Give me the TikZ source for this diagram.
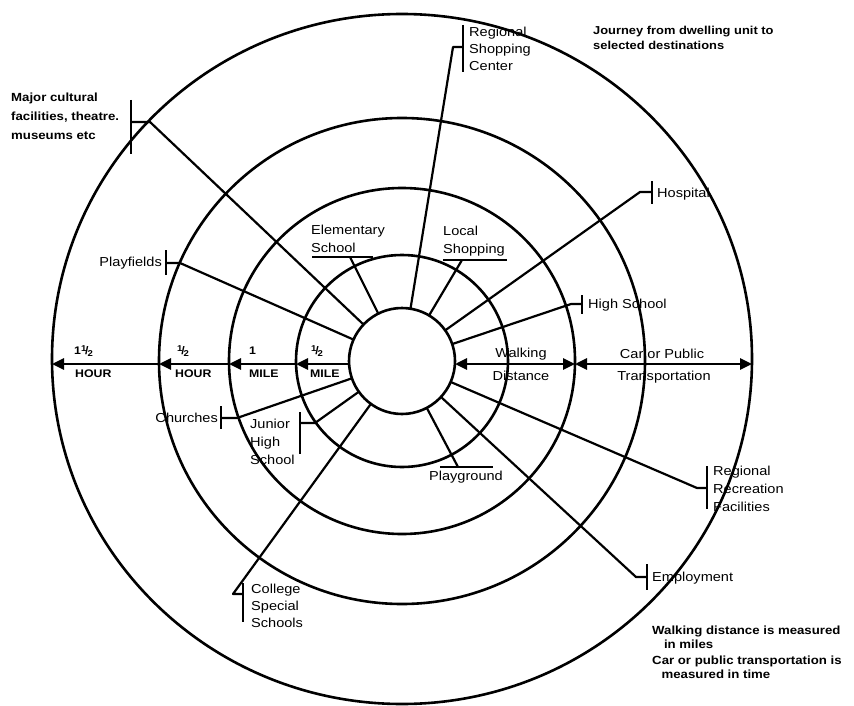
\documentclass[tikz,border=0pt]{standalone}
\usepackage{fontspec}
\setmainfont{Liberation Sans}[FakeStretch=1.12]
\usetikzlibrary{arrows.meta,calc}
\newcommand{\hlf}{\raisebox{0.5ex}{\fontsize{8.5}{9}\selectfont 1}\kern-0.1em/\kern-0.1em\raisebox{-0.35ex}{\fontsize{8.5}{9}\selectfont 2}}

\begin{document}
\begin{tikzpicture}[x=1pt,y=-1pt,
  ring/.style={line width=2.6pt},
  spoke/.style={line width=2.2pt,line join=round},
  bar/.style={line width=2.8pt},
  uline/.style={line width=2pt},
  lbl/.style={font=\fontsize{13}{18}\selectfont,inner sep=0pt,align=left},
  note/.style={font=\bfseries\fontsize{11.8}{14}\selectfont,inner sep=0pt,align=left},
  dist/.style={font=\bfseries\fontsize{11}{13}\selectfont,inner sep=0pt},
  oneway/.style={line width=2.8pt,-{Triangle[length=12pt,width=11pt]}},
  twoway/.style={line width=2.8pt,{Triangle[length=12pt,width=11pt]}-{Triangle[length=12pt,width=11pt]}}
]
\useasboundingbox (0,0) rectangle (854,706);

%--- rings: 1/2 mile, 1 mile, 1/2 hour, 1 1/2 hour ---
\coordinate (ctr) at (402,361);
\foreach \r in {53,106,173,243}
  \draw[ring] (ctr) circle[radius=\r pt];
\draw[ring] (ctr) ++(0,-2) ellipse[x radius=350pt,y radius=345pt];

%--- distance arrows ---
\foreach \n/\x in {oL/52,hL/159,mL/229,wL/296,iL/349,iR/455,mR/575,oR/752}
  \coordinate (\n) at (\x,364);
\draw[oneway] (iL) -- (wL);
\draw[oneway] (wL) -- (mL);
\draw[oneway] (mL) -- (hL);
\draw[oneway] (hL) -- (oL);
\draw[twoway] (iR) -- (mR);
\draw[twoway] (mR) -- (oR);

\node[dist,anchor=west] (halfMa) at (311,351) {\hlf};
\node[dist,anchor=west] (halfMb) at (310,374) {MILE};
\node[dist,anchor=west] (oneMa) at (249,351) {1};
\node[dist,anchor=west] (oneMb) at (249,374) {MILE};
\node[dist,anchor=west] (halfHa) at (177,351) {\hlf};
\node[dist,anchor=west] (halfHb) at (175,374) {HOUR};
\node[dist,anchor=west] (longHa) at (74,351) {1\hlf};
\node[dist,anchor=west] (longHb) at (75,374) {HOUR};
\node[lbl] (walkA) at (521,354) {Walking};
\node[lbl] (walkB) at (521,376) {Distance};
\node[lbl] (carA) at (662,354) {Car or Public};
\node[lbl] (carB) at (664,377) {Transportation};

%--- destinations with a bar ---
\foreach \n/\sx/\sy/\bx/\bt/\bb in {
    major/150/122/131/100/154, shop/453/47/463/25/72,
    hosp/640/192/652/181/204, high/571/304/582/295/314,
    play/180/263/166/250/275, church/237/418/221/406/429,
    junior/315/423/300/412/454, recr/697/488/707/466/509,
    employ/636/577/647/564/590, college/233/594/243/583/622}{
  \coordinate (\n S) at (\sx,\sy);
  \coordinate (\n I) at ($(ctr)!53pt!(\n S)$);
  \coordinate (\n B) at (\bx,\sy);
  \draw[spoke] (\n I) -- (\n S) -- (\n B);
  \draw[bar] (\bx,\bt) -- (\bx,\bb);
}

%--- destinations with an underline ---
\foreach \n/\sx/\sy/\ul/\ur in {elem/350/257/312/373, local/462/260/443/507,
    playg/458/467/440/493}{
  \coordinate (\n S) at (\sx,\sy);
  \coordinate (\n I) at ($(ctr)!53pt!(\n S)$);
  \draw[spoke] (\n I) -- (\n S);
  \draw[uline] (\ul,\sy) -- (\ur,\sy);
}

%--- labels ---
\node[note,anchor=north west,font=\bfseries\fontsize{11.8}{19}\selectfont] (majorT) at (11,93)
  {Major cultural\\facilities, theatre.\\museums etc};
\node[lbl,anchor=west,font=\fontsize{13}{17}\selectfont] (shopT) at (469,49) {Regional\\Shopping\\Center};
\node[lbl,anchor=west] (hospT) at (657,194) {Hospital};
\node[lbl,anchor=west] (highT) at (588,305) {High School};
\node[lbl,anchor=east] (playT) at (162,263) {Playfields};
\node[lbl,anchor=east] (churchT) at (218,418) {Churches};
\node[lbl,anchor=west] (juniorT) at (250,442) {Junior\\High\\School};
\node[lbl,anchor=west] (recrT) at (713,489) {Regional\\Recreation\\Facilities};
\node[lbl,anchor=west] (employT) at (652,578) {Employment};
\node[lbl,anchor=west,font=\fontsize{13}{17}\selectfont] (collegeT) at (251,606) {College\\Special\\Schools};
\node[lbl,anchor=west] (elemT) at (311,239) {Elementary\\School};
\node[lbl,anchor=west] (localT) at (443,241) {Local\\Shopping};
\node[lbl] (playgT) at (466,477) {Playground};

%--- notes ---
\node[note,anchor=north west,font=\bfseries\fontsize{11.5}{15}\selectfont] (jrnyT) at (593,26)
  {Journey from dwelling unit to\\selected destinations};
\node[note,anchor=north west,font=\bfseries\fontsize{11.8}{13.5}\selectfont] (walkN) at (652,626)
  {Walking distance is measured\\\hspace*{1em}in miles};
\node[note,anchor=north west,font=\bfseries\fontsize{11.8}{13.5}\selectfont] (carN) at (652,656)
  {Car or public transportation is\\\hspace*{0.8em}measured in time};
\end{tikzpicture}
\end{document}
